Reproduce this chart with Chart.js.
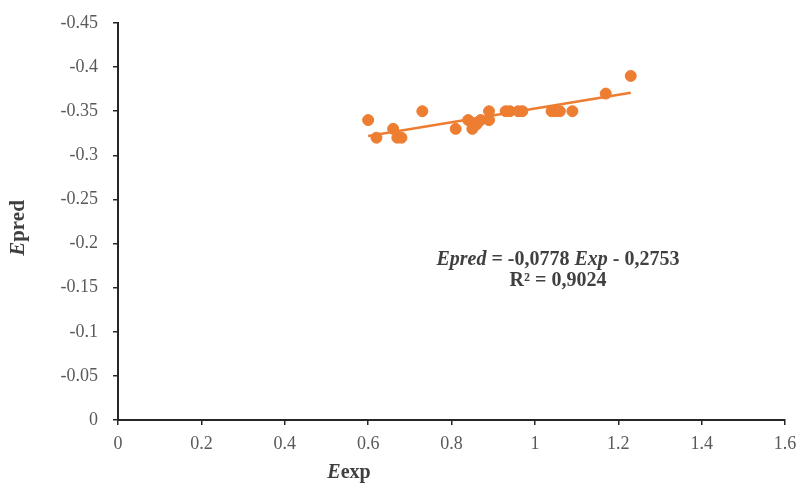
<!DOCTYPE html>
<html lang="en">
<head>
    <meta charset="UTF-8">
    <title>Epred vs Eexp</title>
    <script src="https://cdn.jsdelivr.net/npm/chart.js"></script>
    <style>
        body { margin: 0; background: #ffffff; }
        .chart-box { width: 800px; height: 483px; position: relative; }
    </style>
</head>
<body>
<div class="chart-box">
    <canvas id="scatterChart"></canvas>
</div>
<script>
    // Measured points (Eexp, Epred)
    const eexp  = [0.60, 0.62, 0.66, 0.67, 0.68, 0.73, 0.81, 0.84, 0.85, 0.86, 0.87, 0.89, 0.89, 0.93, 0.94, 0.96, 0.97, 1.04, 1.05, 1.06, 1.09, 1.17, 1.23];
    const epred = [-0.34, -0.32, -0.33, -0.32, -0.32, -0.35, -0.33, -0.34, -0.33, -0.335, -0.34, -0.35, -0.34, -0.35, -0.35, -0.35, -0.35, -0.35, -0.35, -0.35, -0.35, -0.37, -0.39];

    // Linear trendline end points
    const trendX = [0.60, 1.23];
    const trendY = [-0.322, -0.371];

    const r2Text = 'R² = 0,9024';

    const orange = '#ED7D31';
    const serif = "'Liberation Serif', 'Times New Roman', serif";

    // draw a line of text made of segments, some of them italic
    function drawSegments(ctx, segs, cx, y, size) {
        let total = 0;
        segs.forEach(s => {
            ctx.font = (s.italic ? 'italic ' : '') + 'bold ' + size + 'px ' + serif;
            s.w = ctx.measureText(s.t).width;
            total += s.w;
        });
        let x = cx - total / 2;
        segs.forEach(s => {
            ctx.font = (s.italic ? 'italic ' : '') + 'bold ' + size + 'px ' + serif;
            ctx.fillText(s.t, x, y);
            x += s.w;
        });
    }

    const textPlugin = {
        id: 'textPlugin',
        afterDraw(chart) {
            const ctx = chart.ctx;
            ctx.save();
            ctx.fillStyle = '#404040';
            ctx.textAlign = 'left';
            ctx.textBaseline = 'alphabetic';

            // equation + R²
            drawSegments(ctx, [
                { t: 'Epred', italic: true },
                { t: ' = -0,0778 ', italic: false },
                { t: 'Exp', italic: true },
                { t: ' - 0,2753', italic: false }
            ], 558, 265, 20);
            drawSegments(ctx, [{ t: r2Text, italic: false }], 558, 286, 20);

            // x axis title
            drawSegments(ctx, [
                { t: 'E', italic: true },
                { t: 'exp', italic: false }
            ], 349, 478, 20);

            // y axis title (rotated)
            ctx.translate(24, 228);
            ctx.rotate(-Math.PI / 2);
            drawSegments(ctx, [
                { t: 'E', italic: true },
                { t: 'pred', italic: false }
            ], 0, 0, 21);
            ctx.restore();
        }
    };

    const ctx = document.getElementById('scatterChart').getContext('2d');
    new Chart(ctx, {
        type: 'scatter',
        data: {
            datasets: [
                {
                    type: 'line',
                    label: 'Trend',
                    data: trendX.map((x, i) => ({ x: x, y: trendY[i] })),
                    borderColor: orange,
                    borderWidth: 2.5,
                    pointRadius: 0,
                    fill: false,
                    order: 0
                },
                {
                    label: 'Epred',
                    data: eexp.map((x, i) => ({ x: x, y: epred[i] })),
                    backgroundColor: orange,
                    borderColor: orange,
                    pointRadius: 5.5,
                    pointHoverRadius: 5.5,
                    order: 1
                }
            ]
        },
        options: {
            responsive: true,
            maintainAspectRatio: false,
            animation: false,
            layout: { padding: { top: 23, right: 15, left: 0, bottom: 0 } },
            plugins: {
                legend: { display: false },
                tooltip: { enabled: false }
            },
            scales: {
                x: {
                    type: 'linear',
                    min: 0,
                    max: 1.6,
                    afterFit(scale) {
                        scale.height = 63;
                        scale.paddingLeft = 0;
                        scale.paddingRight = 0;
                    },
                    ticks: {
                        stepSize: 0.2,
                        color: '#595959',
                        font: { family: serif, size: 18 },
                        padding: 8,
                        maxRotation: 0,
                        callback: v => Number(v.toFixed(1)).toString()
                    },
                    grid: { drawOnChartArea: false, drawTicks: true, tickLength: 5, color: '#262626', lineWidth: 1.5 },
                    border: { color: '#262626', width: 2 }
                },
                y: {
                    type: 'linear',
                    min: -0.45,
                    max: 0,
                    reverse: true,
                    afterFit(scale) {
                        scale.width = 118;
                        scale.paddingTop = 0;
                        scale.paddingBottom = 0;
                    },
                    ticks: {
                        stepSize: 0.05,
                        color: '#595959',
                        font: { family: serif, size: 18 },
                        padding: 15,
                        callback: v => Number(v.toFixed(2)).toString()
                    },
                    grid: { drawOnChartArea: false, drawTicks: true, tickLength: 5, color: '#262626', lineWidth: 1.5 },
                    border: { color: '#262626', width: 2 }
                }
            }
        },
        plugins: [textPlugin]
    });
</script>
</body>
</html>
